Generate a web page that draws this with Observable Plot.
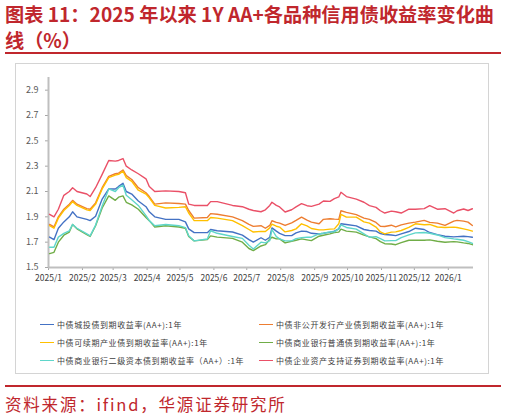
<!DOCTYPE html>
<html><head><meta charset="utf-8">
<script src="https://cdn.jsdelivr.net/npm/d3@7"></script>
<script src="https://cdn.jsdelivr.net/npm/@observablehq/plot@0.6"></script>
<style>
html,body{margin:0;padding:0;background:#fff}
body{width:506px;height:419px;position:relative;overflow:hidden;font-family:"Noto Sans CJK SC","Noto Sans",sans-serif}
#title{position:absolute;left:5px;top:1px;width:500px;font-size:19.2px;font-weight:bold;color:#c0272d;line-height:26px;white-space:nowrap}
#rule1{position:absolute;left:5px;top:52px;width:496px;height:2px;background:#c0272d}
#box{position:absolute;left:15px;top:63px;width:474px;height:311px;border:1px solid #d4d4d4;box-sizing:border-box}
#chart{position:absolute;left:15px;top:63px}
#legend{position:absolute;left:40px;top:318px;width:440px;font-size:8px;color:#404040;letter-spacing:0.6px}
.item{position:absolute;white-space:nowrap;line-height:14px}
.sw{display:inline-block;width:14px;height:0;border-top:1.5px solid;vertical-align:middle;margin-right:3px;position:relative;top:-1px}
#rule2{position:absolute;left:5px;top:385px;width:496px;height:2px;background:#c0272d}
#source{position:absolute;left:5px;top:392px;font-size:16.5px;color:#c0272d;letter-spacing:1.8px;white-space:nowrap}
</style></head>
<body>
<div id="title">图表 11：2025 年以来 1Y AA+各品种信用债收益率变化曲<br>线（%）</div>
<div id="rule1"></div>
<div id="box"></div>
<div id="chart"></div>
<div id="legend"></div>
<div id="rule2"></div>
<div id="source">资料来源：ifind，华源证券研究所</div>
<script>
const dates = ["2025-01-02","2025-01-06","2025-01-10","2025-01-15","2025-01-20","2025-01-23","2025-01-27","2025-02-05","2025-02-08","2025-02-13","2025-02-19","2025-02-25","2025-03-03","2025-03-06","2025-03-10","2025-03-13","2025-03-18","2025-03-24","2025-03-31","2025-04-03","2025-04-08","2025-04-18","2025-04-30","2025-05-06","2025-05-09","2025-05-14","2025-05-26","2025-05-29","2025-06-04","2025-06-18","2025-06-27","2025-07-03","2025-07-07","2025-07-14","2025-07-18","2025-07-22","2025-07-24","2025-07-28","2025-07-31","2025-08-05","2025-08-11","2025-08-15","2025-08-20","2025-08-25","2025-08-29","2025-09-05","2025-09-09","2025-09-15","2025-09-19","2025-09-23","2025-09-25","2025-09-30","2025-10-09","2025-10-16","2025-10-21","2025-10-27","2025-10-31","2025-11-04","2025-11-10","2025-11-14","2025-11-19","2025-11-26","2025-12-02","2025-12-10","2025-12-15","2025-12-22","2025-12-29","2026-01-06","2026-01-09","2026-01-15","2026-01-19","2026-01-23"];

const seriesNames = ["中债城投债到期收益率(AA+):1年","中债非公开发行产业债到期收益率(AA+):1年","中债可续期产业债到期收益率(AA+):1年","中债商业银行普通债到期收益率(AA+):1年","中债商业银行二级资本债到期收益率（AA+）:1年","中债企业资产支持证券到期收益率(AA+):1年"];
const seriesColors = ["#4472c4","#ed7d31","#ffc000","#70ad47","#5fd6ca","#ea5067"];

const chengtou = [1.74,1.72,1.81,1.86,1.90,1.94,1.90,1.88,1.87,1.905,2.04,2.12,2.12,2.14,2.165,2.10,2.08,2.025,1.98,1.94,1.90,1.88,1.88,1.86,1.805,1.775,1.775,1.80,1.79,1.78,1.755,1.72,1.70,1.735,1.715,1.739,1.813,1.787,1.77,1.752,1.752,1.773,1.787,1.784,1.77,1.765,1.77,1.779,1.787,1.805,1.845,1.84,1.829,1.80,1.792,1.787,1.768,1.76,1.757,1.752,1.765,1.784,1.81,1.80,1.776,1.76,1.747,1.742,1.744,1.747,1.744,1.739];
const feigongkai = [1.84,1.82,1.90,1.96,2.00,2.03,2.00,1.965,1.96,2.01,2.13,2.22,2.24,2.245,2.27,2.225,2.195,2.13,2.09,2.06,2.00,2.01,2.005,2.00,1.95,1.89,1.895,1.925,1.92,1.90,1.87,1.84,1.825,1.83,1.81,1.832,1.869,1.856,1.85,1.832,1.853,1.872,1.898,1.874,1.858,1.845,1.88,1.885,1.882,1.88,1.948,1.935,1.917,1.89,1.88,1.856,1.826,1.824,1.834,1.821,1.837,1.85,1.858,1.872,1.856,1.85,1.832,1.866,1.872,1.866,1.858,1.832];
const kexuqi = [1.83,1.81,1.89,1.95,1.99,2.02,1.99,1.955,1.95,2.00,2.12,2.21,2.23,2.235,2.26,2.21,2.18,2.11,2.08,2.05,1.99,1.97,1.975,1.98,1.93,1.87,1.87,1.895,1.89,1.87,1.83,1.80,1.78,1.785,1.784,1.813,1.842,1.826,1.819,1.781,1.792,1.805,1.845,1.829,1.808,1.797,1.797,1.803,1.805,1.845,1.92,1.898,1.898,1.86,1.85,1.819,1.781,1.765,1.779,1.781,1.792,1.816,1.845,1.837,1.84,1.82,1.816,1.819,1.816,1.805,1.797,1.787];
const yinhangputong = [1.61,1.62,1.70,1.755,1.78,1.84,1.805,1.76,1.745,1.83,1.97,2.065,2.03,2.055,2.065,2.015,1.995,1.96,1.895,1.87,1.82,1.83,1.82,1.81,1.745,1.71,1.72,1.75,1.74,1.73,1.70,1.65,1.633,1.67,1.68,1.723,1.739,1.726,1.726,1.694,1.707,1.715,1.726,1.718,1.712,1.747,1.755,1.765,1.776,1.779,1.803,1.787,1.779,1.755,1.742,1.728,1.704,1.688,1.686,1.68,1.696,1.715,1.715,1.715,1.718,1.707,1.699,1.704,1.702,1.694,1.69,1.68];
const erji = [1.66,1.66,1.74,1.77,1.79,1.84,1.81,1.765,1.75,1.835,1.985,2.12,2.10,2.13,2.15,2.07,2.035,1.99,1.91,1.87,1.83,1.84,1.83,1.815,1.75,1.71,1.725,1.79,1.77,1.745,1.73,1.675,1.646,1.70,1.694,1.712,1.80,1.744,1.726,1.71,1.71,1.728,1.736,1.739,1.739,1.765,1.77,1.781,1.781,1.805,1.837,1.816,1.803,1.765,1.739,1.744,1.728,1.71,1.712,1.712,1.736,1.757,1.773,1.776,1.77,1.757,1.736,1.726,1.723,1.715,1.704,1.69];
const abs = [1.92,1.90,1.96,2.07,2.10,2.13,2.10,2.08,2.06,2.13,2.235,2.345,2.34,2.345,2.36,2.30,2.27,2.24,2.20,2.14,2.10,2.105,2.10,2.09,2.00,1.99,1.99,2.02,2.02,1.99,1.98,1.96,1.95,1.94,1.955,1.99,2.015,1.99,1.978,1.938,1.956,1.978,2.004,1.988,1.983,2.00,2.025,2.022,2.044,2.057,2.094,2.06,2.04,2.015,1.988,1.975,1.948,1.93,1.945,1.94,1.93,1.96,1.96,1.965,1.988,1.96,1.964,1.93,1.948,1.962,1.95,1.964];

const yTicks = [1.5,1.7,1.9,2.1,2.3,2.5,2.7,2.9];
const xStart = "2025-01-01", xEnd = "2026-01-24";

const allValues = [chengtou, feigongkai, kexuqi, yinhangputong, erji, abs];
const rows = [];
allValues.forEach((arr, i) => arr.forEach((v, j) => rows.push({date: new Date(dates[j]), value: v, series: seriesNames[i]})));

const monthTicks = d3.utcMonth.range(new Date("2025-01-01"), new Date("2026-01-02"));
const font = '"Noto Sans CJK SC","Noto Sans",sans-serif';

const chart = Plot.plot({
  width: 473, height: 229,
  marginLeft: 33, marginRight: 15, marginTop: 14, marginBottom: 25,
  style: {fontFamily: font, background: "transparent"},
  x: {type: "utc", domain: [new Date(xStart), new Date(xEnd)]},
  y: {domain: [1.5, 3.0]},
  color: {domain: seriesNames, range: seriesColors},
  marks: [
    Plot.axisY({ticks: yTicks, tickFormat: d => d.toFixed(1), tickSize: 3, tickPadding: 7, fontSize: 9, stroke: "#a6a6a6", fill: "#595959", label: null, style: {letterSpacing: "1px"}}),
    Plot.axisX({ticks: monthTicks, tickFormat: d => `${d.getUTCFullYear()}/${d.getUTCMonth() + 1}`, tickSize: 3, tickPadding: 4, fontSize: 8.5, stroke: "#a6a6a6", fill: "#404040", label: null}),
    Plot.ruleX([new Date(xStart)], {y1: 1.5, y2: 3.0, stroke: "#bfbfbf", strokeWidth: 2}),
    Plot.ruleY([1.5], {stroke: "#bfbfbf", strokeWidth: 2}),
    Plot.lineY(rows, {x: "date", y: "value", z: "series", stroke: "series", strokeWidth: 1.4})
  ]
});
document.getElementById("chart").appendChild(chart);

const legend = document.getElementById("legend");
const pos = [[0,0],[219,0],[0,18],[219,18],[0,36],[219,36]];
seriesNames.forEach((n, i) => {
  const d = document.createElement("div");
  d.className = "item";
  d.style.left = pos[i][0] + "px";
  d.style.top = pos[i][1] + "px";
  d.innerHTML = `<span class="sw" style="border-color:${seriesColors[i]}"></span>${n}`;
  legend.appendChild(d);
});
</script>
</body></html>
